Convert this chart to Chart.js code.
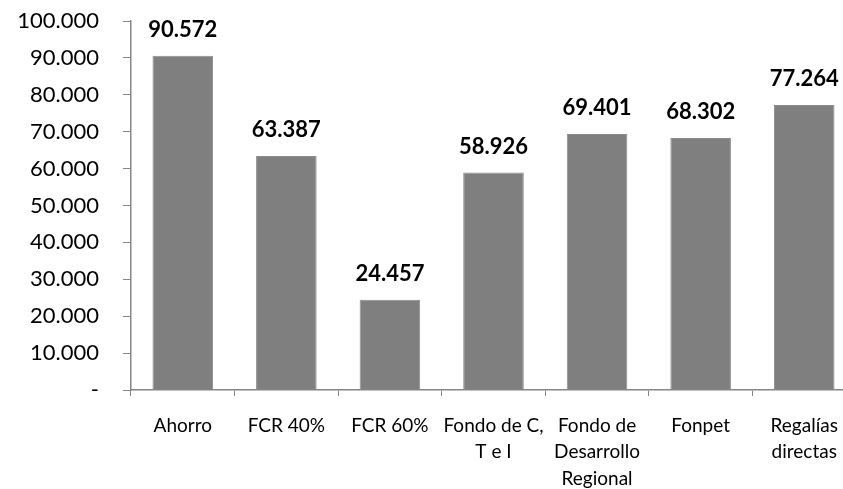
<!DOCTYPE html>
<html>
<head>
<meta charset="utf-8">
<script src="https://cdn.jsdelivr.net/npm/chart.js@4/dist/chart.umd.min.js"></script>
<style>
  html, body { margin: 0; padding: 0; background: #fff; overflow: hidden; }
  #wrap { width: 856px; height: 489px; }
</style>
</head>
<body>
<div id="wrap"><canvas id="grafico"></canvas></div>
<script>
// categorias y valores (millones)
var categorias = [
  "Ahorro",
  "FCR 40%",
  "FCR 60%",
  ["Fondo de C,", "T e I"],
  ["Fondo de", "Desarrollo", "Regional"],
  "Fonpet",
  ["Regalías", "directas"]
];
var valores = [90572, 63387, 24457, 58926, 69401, 68302, 77264];
var ejeMax = 100000;
var ejePaso = 10000;

function miles(v) {
  if (v === 0) return "-";
  var s = String(Math.round(v));
  return s.replace(/\B(?=(\d{3})+(?!\d))/g, ".");
}

// etiquetas encima de cada barra
var etiquetas = {
  id: "etiquetas",
  afterDatasetsDraw: function(chart) {
    var ctx = chart.ctx;
    var meta = chart.getDatasetMeta(0);
    ctx.save();
    ctx.font = "bold 22px Lato";
    ctx.fillStyle = "#000";
    ctx.textAlign = "center";
    ctx.textBaseline = "middle";
    meta.data.forEach(function(bar, i) {
      ctx.fillText(miles(valores[i]), bar.x, bar.y - 26);
    });
    ctx.restore();
  }
};

var ctx = document.getElementById("grafico");
var grafico = new Chart(ctx, {
  type: "bar",
  data: {
    labels: categorias,
    datasets: [{
      data: valores,
      backgroundColor: "#7f7f7f",
      borderColor: "#8c8c8c",
      borderWidth: 1,
      barPercentage: 0.585,
      categoryPercentage: 1
    }]
  },
  options: {
    responsive: true,
    maintainAspectRatio: false,
    animation: false,
    layout: { padding: { top: 21, left: 0, right: 0, bottom: 0 } },
    plugins: {
      legend: { display: false },
      tooltip: { enabled: false }
    },
    scales: {
      x: {
        grid: { drawOnChartArea: false, tickLength: 6, color: "#868686", offset: true },
        border: { color: "#868686", width: 1.5 },
        ticks: {
          color: "#000",
          font: { family: "Lato", size: 19, lineHeight: 1.38 },
          padding: 17,
          maxRotation: 0,
          autoSkip: false
        },
        afterFit: function(s) { s.height = 99; }
      },
      y: {
        min: 0,
        max: ejeMax,
        grid: { drawOnChartArea: false, tickLength: 8, color: "#868686" },
        border: { color: "#868686", width: 1.5 },
        ticks: {
          stepSize: ejePaso,
          color: "#000",
          font: { family: "Lato", size: 22 },
          padding: 24,
          callback: function(v) { return miles(v); }
        },
        afterFit: function(s) {
          s.width = 131;
          s.paddingTop = 0;
          s.paddingBottom = 0;
        }
      }
    }
  },
  plugins: [etiquetas]
});
</script>
</body>
</html>
